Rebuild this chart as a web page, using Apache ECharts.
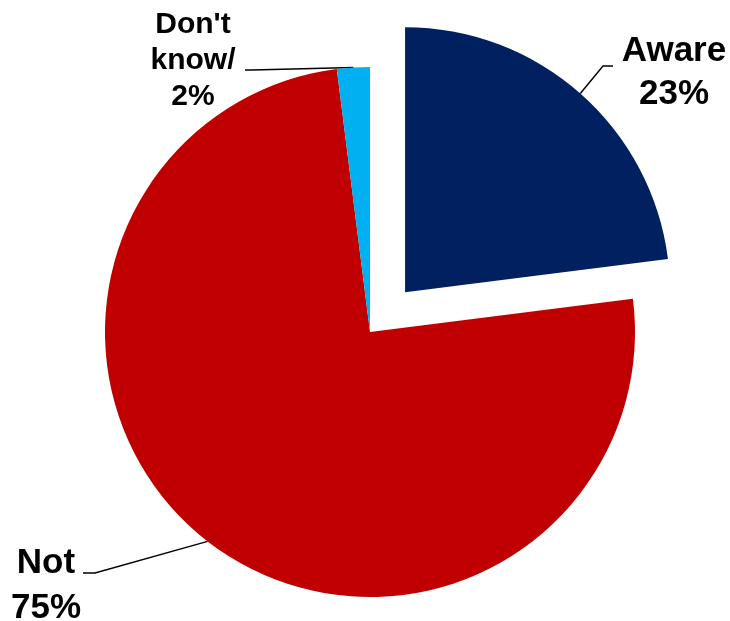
<!DOCTYPE html>
<html><head><meta charset="utf-8">
<script src="https://cdn.jsdelivr.net/npm/echarts@6/dist/echarts.min.js"></script>
<style>html,body{margin:0;padding:0;background:#fff}#c{width:730px;height:621px}</style>
</head><body><div id="c"></div>
<script>
// ---- data ----
const categories = ['Aware', 'Not', "Don't know/"];
const values = [23, 75, 2];
const colors = ['#002060', '#C00000', '#00B0F0'];
const explodedIndex = 0;

// ---- layout ----
const CENTER = [370, 332];
const RADIUS = 265;
const EXPLODE = 53;
const FONT = "'Liberation Sans', Arial, Helvetica, sans-serif";
const labelPlace = [
  { x: 674, y: 73, size: 35, lh: 43, elbow: [603, 66], end: [613, 66] },
  { x: 46, y: 586, size: 35, lh: 45, elbow: [95, 573], end: [83, 573] },
  { x: 193, y: 61, size: 30, lh: 36, elbow: [252, 70], end: [245, 70] }
];

const total = values.reduce((a, b) => a + b, 0);
let before = 0;
for (let i = 0; i < explodedIndex; i++) before += values[i];
const midDeg = 90 - 360 * (before + values[explodedIndex] / 2) / total;
const explodedCenter = [
  CENTER[0] + EXPLODE * Math.cos(midDeg * Math.PI / 180),
  CENTER[1] - EXPLODE * Math.sin(midDeg * Math.PI / 180)
];

function labelLayout(params) {
  const lp = labelPlace[params.dataIndex];
  const out = { x: lp.x, y: lp.y, align: 'center', verticalAlign: 'middle' };
  const pts = params.labelLinePoints;
  if (pts && pts.length) {
    out.labelLinePoints = [pts[0], lp.elbow.slice(), lp.end.slice()];
  }
  return out;
}

function makeSeries(isExploded, center) {
  return {
    type: 'pie',
    center: center,
    radius: RADIUS,
    startAngle: 90,
    clockwise: true,
    avoidLabelOverlap: false,
    animation: false,
    silent: true,
    emphasis: { disabled: true },
    label: {
      show: true,
      position: 'outside',
      color: '#000',
      fontFamily: FONT,
      fontWeight: 'bold',
      overflow: 'none',
      formatter: p => p.name.replace(' ', '\n') + '\n' + Math.round(p.percent) + '%'
    },
    labelLine: { show: true, length: 10, length2: 5, lineStyle: { color: '#000', width: 1.4 } },
    labelLayout: labelLayout,
    data: categories.map((name, i) => {
      const visible = (i === explodedIndex) === isExploded;
      return {
        name: name,
        value: values[i],
        itemStyle: { color: visible ? colors[i] : 'rgba(0,0,0,0)', borderWidth: 0 },
        label: { show: visible, fontSize: labelPlace[i].size, lineHeight: labelPlace[i].lh },
        labelLine: { show: visible }
      };
    })
  };
}

const chart = echarts.init(document.getElementById('c'), null, { renderer: 'canvas' });
chart.setOption({
  backgroundColor: '#fff',
  animation: false,
  series: [
    makeSeries(false, CENTER),
    makeSeries(true, explodedCenter)
  ]
});
</script>
</body></html>
